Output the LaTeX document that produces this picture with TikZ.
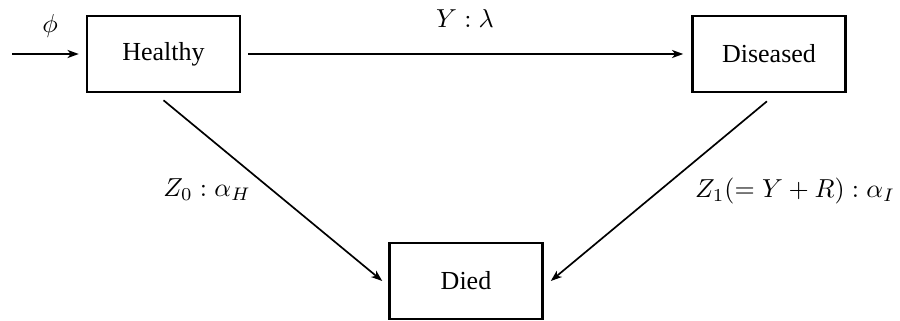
\documentclass[tikz,border=0pt]{standalone}
\usepackage{fontspec}
\setmainfont{Liberation Serif}
\usetikzlibrary{arrows.meta}
\tikzset{
  statebox/.style={draw, line width=1pt, minimum width=58.8pt, minimum height=29.2pt, inner sep=0pt, font=\fontsize{10}{12}\selectfont},
  flow/.style={line width=0.65pt, -{Stealth[length=4.3pt,width=3.1pt,inset=1.2pt]}},
  lbl/.style={font=\fontsize{10}{12}\selectfont, inner sep=0pt}
}
\begin{document}
\begin{tikzpicture}[x=0.3846pt,y=-0.3846pt]
\useasboundingbox (0,0) rectangle (900,320);
\node[statebox] (healthy) at (163.5,54) {Healthy};
\node[statebox] (diseased) at (769,54) {Diseased};
\node[statebox] (died) at (466,281) {Died};
\coordinate (src) at (12,54);
\draw[flow, shorten >=2.7pt] (src) -- (healthy.west);
\draw[flow, shorten <=2.7pt, shorten >=3.1pt] (healthy.east) -- (diseased.west);
\draw[flow] ([yshift=-2.7pt]healthy.south) -- ([xshift=-2.3pt]died.west);
\draw[flow] ([xshift=-0.8pt,yshift=-3.1pt]diseased.south) -- ([xshift=2.7pt]died.east);
\node[lbl] (phi) at (50,26) {$\phi$};
\node[lbl] (ylab) at (465,18) {$Y:\lambda$};
\node[lbl] (z0) at (207,190) {$Z_0:\alpha_H$};
\node[lbl] (z1) at (795,191) {$Z_1(=Y+R):\alpha_I$};
\end{tikzpicture}
\end{document}
